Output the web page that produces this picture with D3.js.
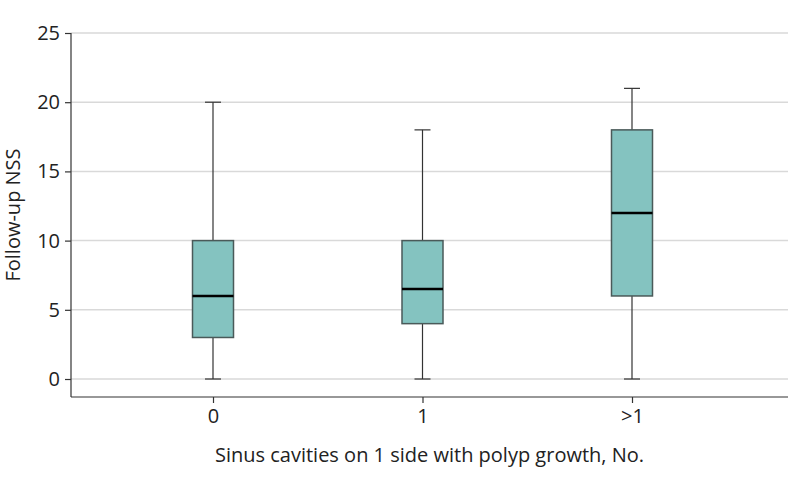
<!DOCTYPE html>
<html>
<head>
<meta charset="utf-8">
<script src="https://cdn.jsdelivr.net/npm/d3@7"></script>
<style>
  body { margin: 0; background: #fff; }
  text { font-family: "Open Sans", sans-serif; fill: #222; }
</style>
</head>
<body>
<svg id="chart" width="794" height="483"></svg>
<script>
// box plot stats
var categories = ["0", "1", ">1"];
var whiskerLow = [0, 0, 0];
var q1 = [3, 4, 6];
var median = [6, 6.5, 12];
var q3 = [10, 10, 18];
var whiskerHigh = [20, 18, 21];
var yTicks = [0, 5, 10, 15, 20, 25];

var svg = d3.select("#chart");
var plotLeft = 71, plotRight = 788, plotTop = 33, plotBottom = 397;

var y = d3.scaleLinear().domain([-1.3, 25]).range([plotBottom, plotTop]);
var x = d3.scalePoint().domain(categories).range([213, 632]);

// gridlines
svg.append("g").selectAll("line")
  .data(yTicks).enter()
  .append("line")
  .attr("x1", plotLeft).attr("x2", plotRight)
  .attr("y1", function(d) { return y(d); })
  .attr("y2", function(d) { return y(d); })
  .attr("stroke", "#d9d9d9")
  .attr("stroke-width", 1.5);

var yAxis = svg.append("g")
  .attr("transform", "translate(" + plotLeft + ",0)")
  .call(d3.axisLeft(y).tickValues(yTicks).tickSize(6).tickPadding(5));
yAxis.select(".domain").attr("d", "M0," + plotTop + "V" + plotBottom);

var xAxis = svg.append("g")
  .attr("transform", "translate(0," + plotBottom + ")")
  .call(d3.axisBottom(x).tickSize(6).tickPadding(6));
xAxis.select(".domain").attr("d", "M" + plotLeft + ",0H" + plotRight);

svg.selectAll(".domain, .tick line").attr("stroke", "#333").attr("stroke-width", 1.2);
svg.selectAll(".tick text").attr("font-size", 20).attr("fill", "#222")
  .style("font-family", "'Open Sans', sans-serif");

var data = categories.map(function(c, i) {
  return { cat: c, lo: whiskerLow[i], q1: q1[i], med: median[i], q3: q3[i], hi: whiskerHigh[i] };
});

var boxW = 41, capW = 16;
var g = svg.append("g").selectAll("g")
  .data(data).enter()
  .append("g")
  .attr("transform", function(d) { return "translate(" + x(d.cat) + ",0)"; });

g.append("line")
  .attr("x1", 0).attr("x2", 0)
  .attr("y1", function(d) { return y(d.lo); })
  .attr("y2", function(d) { return y(d.hi); })
  .attr("stroke", "#333").attr("stroke-width", 1.2);

g.selectAll(".cap")
  .data(function(d) { return [d.lo, d.hi]; }).enter()
  .append("line")
  .attr("x1", -capW / 2).attr("x2", capW / 2)
  .attr("y1", function(v) { return y(v); })
  .attr("y2", function(v) { return y(v); })
  .attr("stroke", "#333").attr("stroke-width", 1.2);

g.append("rect")
  .attr("x", -boxW / 2).attr("width", boxW)
  .attr("y", function(d) { return y(d.q3); })
  .attr("height", function(d) { return y(d.q1) - y(d.q3); })
  .attr("fill", "#84c3c0")
  .attr("stroke", "#4a5a59").attr("stroke-width", 1.5);

g.append("line")
  .attr("x1", -boxW / 2).attr("x2", boxW / 2)
  .attr("y1", function(d) { return y(d.med); })
  .attr("y2", function(d) { return y(d.med); })
  .attr("stroke", "#000").attr("stroke-width", 2.5);

svg.append("text")
  .attr("x", (plotLeft + plotRight) / 2).attr("y", 462)
  .attr("text-anchor", "middle").attr("font-size", 20)
  .text("Sinus cavities on 1 side with polyp growth, No.");

svg.append("text")
  .attr("transform", "translate(20," + ((plotTop + plotBottom) / 2) + ") rotate(-90)")
  .attr("text-anchor", "middle").attr("font-size", 20)
  .text("Follow-up NSS");
</script>
</body>
</html>
